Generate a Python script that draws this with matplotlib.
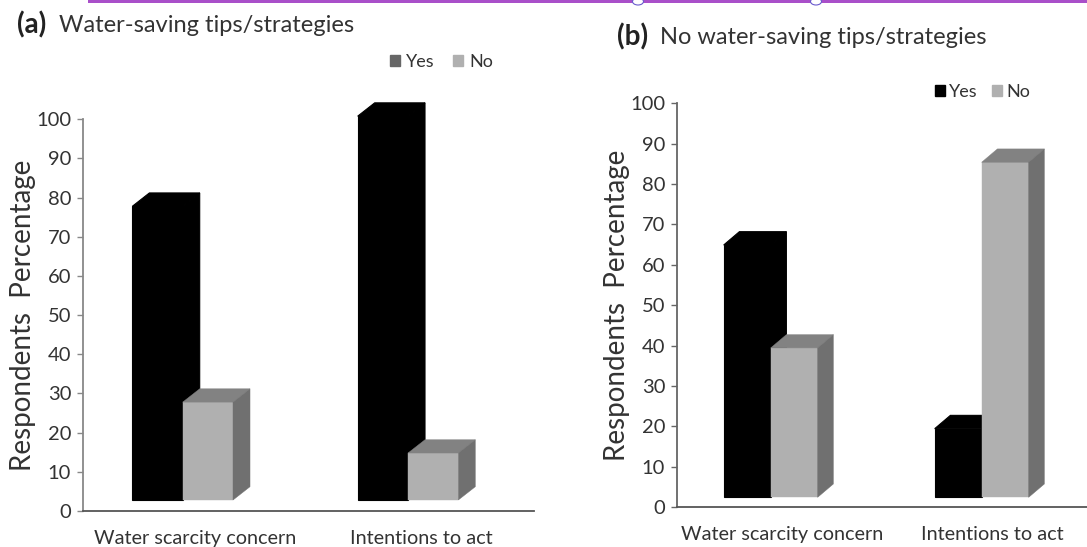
import matplotlib
matplotlib.use("Agg")
import matplotlib.pyplot as plt
from matplotlib.patches import Patch, Rectangle, Ellipse

W, H = 1087, 547

categories = ["Water scarcity concern", "Intentions to act"]
yes_a = [75, 98]
no_a = [25, 12]
yes_b = [62.5, 17]
no_b = [37, 83]
y_ticks = list(range(0, 101, 10))

BLACK = "#000000"
FRONT = "#b0b0b0"
TOP = "#828282"
SIDE = "#707070"
TEXT = "#333333"

plt.rcParams["font.family"] = ["Lato", "DejaVu Sans"]
fig = plt.figure(figsize=(W / 100, H / 100), dpi=100)


def fx(px):
    return px / W


def fy(py):
    return 1 - py / H


def draw_bar(ax, x, value, width, base, dx, dy, front, top, side, lw=0.3):
    # 3d look: front face, then the top and right side offset by the depth
    ax.bar(x, value, width=width, bottom=base, align="edge", color=front, edgecolor=front,
           linewidth=lw, zorder=3, clip_on=False)
    y1 = base + value
    ax.fill([x, x + dx, x + width + dx, x + width], [y1, y1 + dy, y1 + dy, y1],
            facecolor=top, edgecolor=top, linewidth=lw, zorder=3, clip_on=False)
    ax.fill([x + width, x + width + dx, x + width + dx, x + width],
            [base, base + dy, y1 + dy, y1], facecolor=side, edgecolor=side, linewidth=lw,
            zorder=3, clip_on=False)


def make_panel(left, right, y0, y100, xlim, yes, no, width, base, dx, dy, label_shift, spine_color):
    ax = fig.add_axes([fx(left), fy(y0), fx(right - left), (y0 - y100) / H])
    ax.set_xlim(*xlim)
    ax.set_ylim(0, 100)
    for i in range(len(categories)):
        draw_bar(ax, i - width, yes[i], width, base, dx, dy, BLACK, BLACK, BLACK, lw=0.8)
    for i in range(len(categories)):
        draw_bar(ax, i, no[i], width, base, dx, dy, FRONT, TOP, SIDE)

    for name in ["top", "right"]:
        ax.spines[name].set_visible(False)
    ax.spines["left"].set_color(spine_color)
    ax.spines["left"].set_linewidth(1.3)
    ax.spines["bottom"].set_color("#555555")
    ax.spines["bottom"].set_linewidth(1.3)

    ax.set_yticks(y_ticks)
    ax.tick_params(axis="y", length=4.5, width=1.0, color=spine_color, pad=4,
                   labelsize=14.5, labelcolor=TEXT)
    ax.set_xticks([i + label_shift for i in range(len(categories))])
    ax.set_xticklabels(categories)
    ax.tick_params(axis="x", length=0, pad=13.5, labelsize=14.3, labelcolor=TEXT)
    ax.set_ylabel("Respondents  Percentage", fontsize=20, color=TEXT, labelpad=0)
    return ax


ax_a = make_panel(83, 533.6, 511, 119.3, (-0.4425, 1.5575), yes_a, no_a,
                  0.2233, 2.8, 0.0755, 3.4, 0.057, "#888888")
ax_b = make_panel(677, 1099, 507, 103.3, (-0.444, 1.556), yes_b, no_b,
                  0.2227, 2.4, 0.0744, 3.3, 0.052, "#666666")

# panel titles
fig.text(fx(17), fy(25), "(a)", fontsize=20, fontweight="bold", color="#222222", va="center")
fig.text(fx(59), fy(25), "Water-saving tips/strategies", fontsize=17, color=TEXT, va="center")
fig.text(fx(617), fy(37), "(b)", fontsize=20, fontweight="bold", color="#222222", va="center")
fig.text(fx(660), fy(37), "No water-saving tips/strategies", fontsize=17, color=TEXT, va="center")

# legends
ax_a.legend(handles=[Patch(color="#666666", label="Yes"), Patch(color=FRONT, label="No")],
            ncol=2, frameon=False, loc="center left", bbox_to_anchor=(fx(390), fy(62)),
            bbox_transform=fig.transFigure, fontsize=13, labelcolor=TEXT, handlelength=0.55,
            handleheight=0.55, handletextpad=0.33, columnspacing=1.05, borderpad=0, borderaxespad=0)
ax_b.legend(handles=[Patch(color=BLACK, label="Yes"), Patch(color=FRONT, label="No")],
            ncol=2, frameon=False, loc="center left", bbox_to_anchor=(fx(935), fy(92)),
            bbox_transform=fig.transFigure, fontsize=13, labelcolor=TEXT, handlelength=0.55,
            handleheight=0.55, handletextpad=0.22, columnspacing=0.8, borderpad=0, borderaxespad=0)

# purple rule along the top edge of the page crop, with two cut off letter tails
fig.add_artist(Rectangle((fx(88), fy(3)), 1 - fx(88), 3 / H, transform=fig.transFigure,
                         color="#a94fc9", linewidth=0))
for cx in [638, 816]:
    fig.add_artist(Ellipse((fx(cx), fy(1.5)), 11 / W, 7 / H, transform=fig.transFigure,
                           facecolor="white", edgecolor="#6a5acd", linewidth=0.8))

fig.savefig("out.png", dpi=100)
